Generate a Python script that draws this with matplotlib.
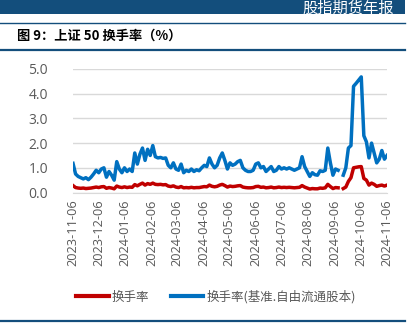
"""上证50换手率走势图."""

import matplotlib
matplotlib.use("Agg")
import matplotlib.pyplot as plt
import matplotlib.dates as mdates
import numpy as np
import pandas as pd
from matplotlib.lines import Line2D
from matplotlib.patches import Rectangle

plt.rcParams["font.family"] = ["Noto Sans CJK SC", "DejaVu Sans"]

# 每3个自然日取一个观测, 起点 2023-11-06
start_date = "2023-11-06"
end_date = "2024-11-06"

turnover_free = [
    1.18, 0.75, 0.65, 0.60, 0.55, 0.60, 0.52, 0.62, 0.75, 0.90,
    0.80, 0.95, 1.00, 0.62, 0.85, 0.70, 0.50, 1.25, 0.95, 0.80,
    1.00, 0.85, 0.95, 0.85, 1.60, 1.15, 1.55, 1.80, 1.30, 1.75,
    1.50, 1.90, 1.45, 1.40, 1.42, 1.38, 1.40, 1.10, 1.00, 1.20,
    0.95, 0.90, 1.15, 0.80, 0.90, 0.85, 0.95, 0.85, 0.92, 0.88,
    1.00, 1.10, 1.05, 1.40, 1.15, 1.00, 1.10, 1.40, 1.60, 1.30,
    0.95, 1.20, 1.10, 1.15, 1.25, 1.30, 1.00, 0.90, 0.85, 0.85,
    0.90, 1.15, 1.20, 1.00, 1.05, 0.85, 0.95, 1.05, 0.85, 0.90,
    1.05, 0.95, 1.00, 0.95, 1.00, 0.95, 0.90, 0.95, 1.00, 1.45,
    1.05, 0.85, 0.65, 0.80, 0.72, 0.70, 0.88, 0.85, 0.90, 1.80,
    1.20, 0.70, 0.95, 0.90, np.nan, 0.70, 1.00, 1.80, 1.90, 4.30,
    4.42, 4.55, 4.68, 2.30, 2.05, 1.40, 2.00, 1.60, 1.20, 1.35,
    1.70, 1.35, 1.50,
]

turnover = [
    0.28, 0.20, 0.18, 0.17, 0.18, 0.16, 0.17, 0.18, 0.20, 0.22,
    0.20, 0.23, 0.24, 0.17, 0.20, 0.18, 0.15, 0.26, 0.22, 0.20,
    0.23, 0.20, 0.22, 0.21, 0.32, 0.27, 0.33, 0.38, 0.30, 0.36,
    0.33, 0.38, 0.33, 0.32, 0.33, 0.31, 0.32, 0.26, 0.24, 0.27,
    0.22, 0.20, 0.24, 0.19, 0.20, 0.19, 0.21, 0.19, 0.20, 0.20,
    0.22, 0.24, 0.23, 0.30, 0.25, 0.23, 0.25, 0.30, 0.33, 0.28,
    0.22, 0.26, 0.24, 0.25, 0.27, 0.28, 0.22, 0.20, 0.19, 0.19,
    0.20, 0.24, 0.25, 0.21, 0.22, 0.19, 0.20, 0.22, 0.19, 0.20,
    0.22, 0.20, 0.21, 0.20, 0.21, 0.20, 0.19, 0.20, 0.21, 0.28,
    0.22, 0.18, 0.14, 0.16, 0.15, 0.15, 0.18, 0.17, 0.19, 0.33,
    0.24, 0.16, 0.20, 0.19, np.nan, 0.16, 0.22, 0.45, 0.60, 1.00,
    1.02, 1.04, 1.05, 0.57, 0.50, 0.30, 0.38, 0.33, 0.25, 0.28,
    0.30, 0.26, 0.30,
]

y_ticks = [0, 1, 2, 3, 4, 5]

dates = pd.date_range(start_date, periods=len(turnover_free), freq="3D")
month_ticks = pd.date_range(start_date, end_date, freq=pd.DateOffset(months=1))

NAVY = "#134E7C"
RED = "#C00000"
BLUE = "#0070C0"
GREY_TXT = "#595959"
GRID = "#D9D9D9"

W, H = 412, 334
fig = plt.figure(figsize=(W / 100, H / 100), dpi=100)


def fy(px):
    return 1 - px / H


# 页眉色带与分隔线
fig.patches.append(Rectangle((0, fy(14)), 405 / W, 14 / H, transform=fig.transFigure,
                             facecolor=NAVY, edgecolor="none"))
fig.text(302 / W, fy(12), "股指期货年报", color="white", fontsize=11,
         ha="left", va="baseline")
fig.add_artist(Line2D([0, 405 / W], [fy(22.5)] * 2, color=NAVY, lw=1.0))
fig.add_artist(Line2D([0, 405 / W], [fy(50)] * 2, color=NAVY, lw=1.6))
fig.add_artist(Line2D([0, 405 / W], [fy(321)] * 2, color=NAVY, lw=1.6))

fig.text(17 / W, fy(36), "图 9：上证 50 换手率（%）", fontsize=9.5,
         fontweight="bold", color="black", ha="left", va="center")

ax = fig.add_axes([73 / W, fy(192.5), (387 - 73) / W, (192.5 - 69) / H])
ax.plot(dates, turnover, color=RED, lw=2.5, label="换手率", zorder=3)
ax.plot(dates, turnover_free, color=BLUE, lw=2.5,
        label="换手率(基准.自由流通股本)", zorder=3)

ax.set_xlim(pd.Timestamp(start_date), pd.Timestamp(end_date))
ax.set_ylim(0, 5)
ax.set_yticks(y_ticks)
ax.yaxis.set_major_formatter(plt.FuncFormatter(lambda v, _: f"{v:.1f}"))
ax.set_xticks(month_ticks)
ax.xaxis.set_major_formatter(mdates.DateFormatter("%Y-%m-%d"))

ax.grid(axis="y", color=GRID, lw=1.0, zorder=0)
for side in ["top", "right", "left"]:
    ax.spines[side].set_visible(False)
ax.spines["bottom"].set_color(GRID)
ax.tick_params(length=0)
ax.tick_params(axis="y", pad=18, labelsize=10, labelcolor=GREY_TXT)
ax.tick_params(axis="x", pad=5, labelsize=9.2, labelcolor=GREY_TXT, rotation=90)
for lab in ax.get_xticklabels() + ax.get_yticklabels():
    lab.set_fontfamily(["Open Sans", "DejaVu Sans"])

leg = fig.legend(loc="center", bbox_to_anchor=(216 / W, fy(297)), ncol=2,
                 frameon=False, fontsize=9, handlelength=2.6, handletextpad=0.25,
                 columnspacing=1.7, labelcolor=GREY_TXT)
for line in leg.get_lines():
    line.set_linewidth(3.0)

fig.savefig("out.png", dpi=100)
